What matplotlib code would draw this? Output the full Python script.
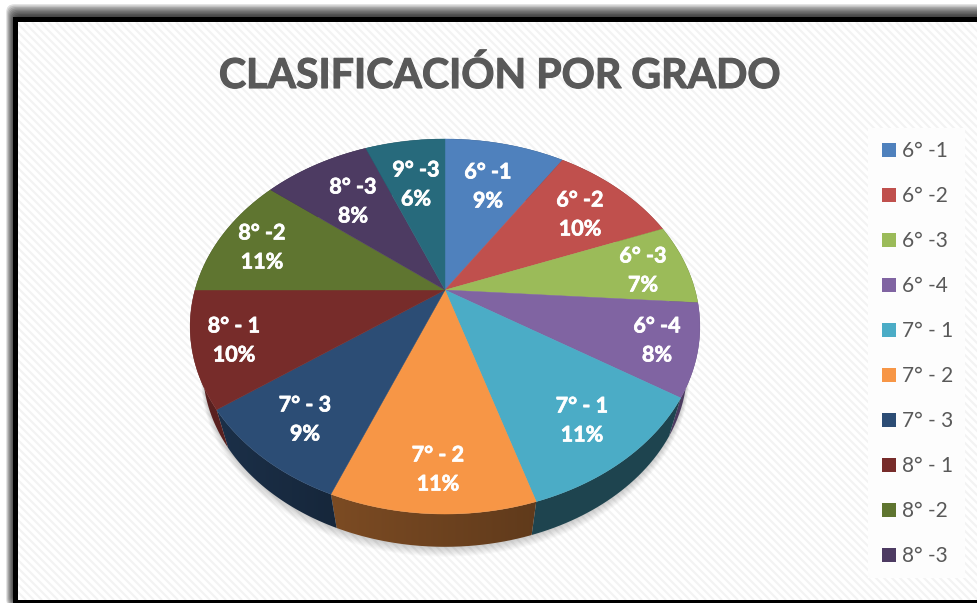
import numpy as np
import matplotlib
matplotlib.use('Agg')
import matplotlib.pyplot as plt
import matplotlib.patheffects as pe
from matplotlib.collections import LineCollection
from matplotlib.patches import FancyBboxPatch, Polygon, Rectangle

# data
categories = ['6° -1', '6° -2', '6° -3', '6° -4', '7° - 1', '7° - 2', '7° - 3', '8° - 1', '8° -2', '8° -3', '9° -3']
percent = [9.2, 9.9, 7.0, 7.9, 11.2, 10.9, 8.9, 10.0, 10.7, 8.2, 6.1]
legend_entries = categories[:10]
title = 'CLASIFICACIÓN POR GRADO'

colors = ['#4f81bd', '#c0504d', '#9bbb59', '#8064a2', '#4bacc6', '#f79646',
          '#2c4d75', '#772c2a', '#5f7530', '#4d3b62', '#276a7c']
# how dark each side wall is, at its right and left end
wall_shade = [(.4, .4), (.4, .4), (.4, .4), (.6, .6), (.4, .4), (.39, .5),
              (.5, .62), (.75, .75), (.4, .4), (.4, .4), (.4, .4)]

# label centres in pixels (name line y, the percent goes under it)
label_x = [488, 580, 643, 657, 582, 438, 305, 234, 262, 353, 416]
label_y = [170, 198, 254, 324, 404, 453, 403, 324, 231, 185, 168]

# perspective of the pie, fitted on the picture
CX, CY = 445, 290
R, S, K = 250.0, 180.4, 0.1947
BOTTOM_SCALE, BOTTOM_Y = 0.95, 334


def project(theta, y0=CY, scale=1.0):
    # theta in radians, clockwise from the top of the disc
    u, v = np.sin(theta), np.cos(theta)
    w = 1 + K * v
    return CX + scale * R * u / w, y0 - scale * S * v / w


fig = plt.figure(figsize=(9.77, 6.03), dpi=100, facecolor='white')
ax = fig.add_axes([0, 0, 1, 1])
ax.axis('off')

# soft black frame
for i in range(12):
    grow = 12 - i
    ax.add_patch(FancyBboxPatch((17 - grow * 0.9, 21 - grow * 1.4), 1100, 579 + 2 * grow,
                                boxstyle='round,pad=0,rounding_size=8', fc='black',
                                ec='none', alpha=0.13, zorder=1))
ax.add_patch(Rectangle((13, 17), 1000, 600, fc='black', ec='none', zorder=1))

# striped chart area
ax.add_patch(Rectangle((18, 22), 970, 578, fc='white', ec='none', zorder=2))
offsets = np.arange(-600, 1000, 8.0)
stripes = [[(o, 22), (o + 578, 600)] for o in offsets]
lc = LineCollection(stripes, colors='#f3f3f3', linewidths=1.6, zorder=3)
ax.add_collection(lc)
lc.set_clip_path(Rectangle((18, 22), 959, 578, transform=ax.transData))

ax.text(499.5, 88, title, ha='center', va='baseline', fontsize=29.6, fontweight='bold',
        family='Lato', color='#595959', zorder=10,
        path_effects=[pe.withStroke(linewidth=0.8, foreground='#595959')])

# shadow under the pie
full = np.linspace(0, 2 * np.pi, 400)
for d in range(1, 9):
    sx, sy = project(full, BOTTOM_Y + d, BOTTOM_SCALE + d * 0.001)
    ax.fill(sx, sy, color='black', alpha=0.025, lw=0, zorder=4)

# side wall, then the top of the pie
edges = np.cumsum([0] + percent) / sum(percent) * 2 * np.pi
for i, col in enumerate(colors):
    rgb = np.array(matplotlib.colors.to_rgb(col))
    th = np.linspace(edges[i], edges[i + 1], 60)
    x_top, y_top = project(th)
    x_bot, y_bot = project(th, BOTTOM_Y, BOTTOM_SCALE)
    xs = np.r_[x_top, x_bot[::-1]]
    ys = np.r_[y_top, y_bot[::-1]]
    wall = Polygon(np.c_[xs, ys], closed=True, fc='none', ec='none', transform=ax.transData)
    ax.add_patch(wall)
    # gradient running left to right, clipped to the wall outline
    ramp = np.linspace(wall_shade[i][1], wall_shade[i][0], 64) ** 1.0
    img = (ramp[:, None] * rgb)[None, :, :]
    ax.imshow(img, extent=(xs.min(), xs.max(), ys.max(), ys.min()), aspect='auto',
              clip_path=wall, zorder=5, interpolation='bilinear')

for i, col in enumerate(colors):
    th = np.linspace(edges[i], edges[i + 1], 60)
    x_rim, y_rim = project(th)
    ax.fill(np.r_[CX, x_rim], np.r_[CY, y_rim], color=col, ec=col, lw=0.3, zorder=6)

label_fx = [pe.withStroke(linewidth=0.5, foreground='white')]
for i, name in enumerate(categories):
    ax.text(label_x[i], label_y[i] + 2, name, ha='center', va='center', fontsize=15.5,
            fontweight='bold', family='Lato', color='white', zorder=11, path_effects=label_fx)
    ax.text(label_x[i], label_y[i] + 31, f'{percent[i]:.0f}%', ha='center', va='center',
            fontsize=15.5, fontweight='bold', family='Lato', color='white', zorder=11,
            path_effects=label_fx)

# legend
ax.add_patch(Rectangle((868, 128), 97, 450, fc='#fdfdfd', ec='none', zorder=7))
for i, name in enumerate(legend_entries):
    y = 150 + i * 45
    ax.add_patch(Rectangle((882, y - 7), 14, 14, fc=colors[i], ec='none', zorder=8))
    ax.text(902, y + 1, name, ha='left', va='center', fontsize=15, family='Lato',
            color='#595959', zorder=9)

ax.set_xlim(0, 977)
ax.set_ylim(603, 0)
fig.savefig('out.png', dpi=100)
